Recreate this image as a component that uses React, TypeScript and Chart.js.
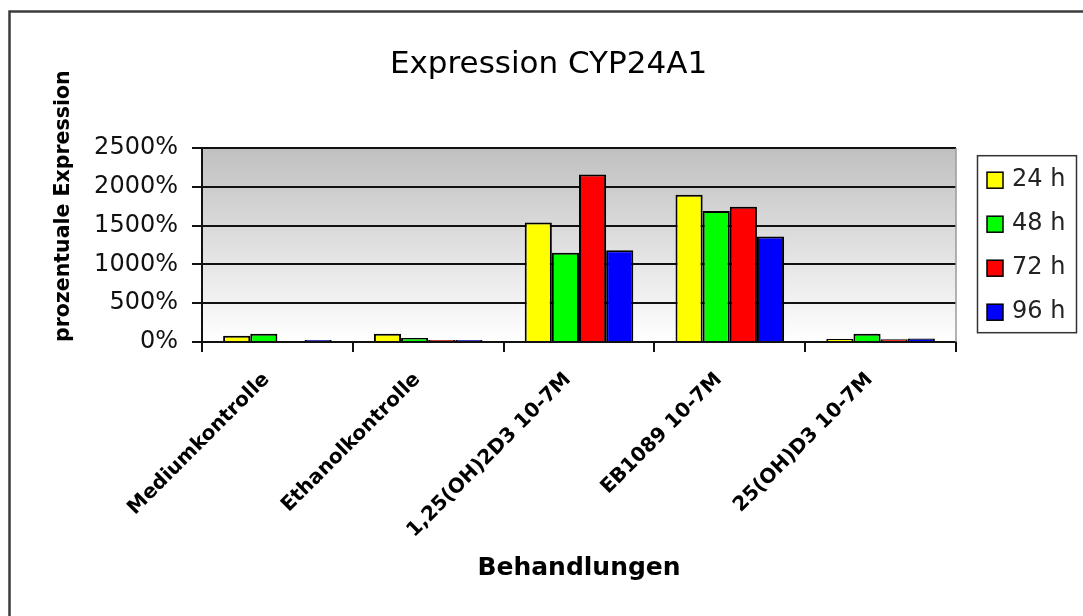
import React, { useEffect, useRef } from "react";
import { Chart, registerables } from "chart.js";

Chart.register(...registerables);

const chartTitle = "Expression CYP24A1";
const xAxisTitle = "Behandlungen";
const yAxisTitle = "prozentuale Expression";

const categories = [
  "Mediumkontrolle",
  "Ethanolkontrolle",
  "1,25(OH)2D3 10-7M",
  "EB1089 10-7M",
  "25(OH)D3 10-7M",
];

const seriesLabels = ["24 h", "48 h", "72 h", "96 h"];
const seriesColors = ["#ffff00", "#00ff00", "#ff0000", "#0000ff"];

const values24h = [80, 105, 1540, 1900, 40];
const values48h = [105, 50, 1150, 1690, 105];
const values72h = [0, 25, 2160, 1745, 35];
const values96h = [25, 25, 1185, 1360, 45];

const yTicks = [0, 500, 1000, 1500, 2000, 2500];

const FONT = "'DejaVu Sans', 'Liberation Sans', sans-serif";

const backgroundPlugin = {
  id: "plotBackground",
  beforeDraw(chart: any) {
    const { ctx, chartArea } = chart;
    const { left, right, top, bottom } = chartArea;
    ctx.save();
    ctx.fillStyle = "#ffffff";
    ctx.fillRect(0, 0, chart.width, chart.height);
    const g = ctx.createLinearGradient(0, top, 0, bottom);
    g.addColorStop(0, "#c0c0c0");
    g.addColorStop(1, "#ffffff");
    ctx.fillStyle = g;
    ctx.fillRect(left, top, right - left, bottom - top);
    // outer frame (only top and left edges are visible in the picture)
    ctx.strokeStyle = "#3c3c3c";
    ctx.lineWidth = 2.5;
    ctx.strokeRect(9.5, 11.5, 3000, 3000);
    ctx.restore();
  },
  afterDatasetsDraw(chart: any) {
    const { ctx, chartArea } = chart;
    ctx.save();
    ctx.strokeStyle = "#9a9a9a";
    ctx.lineWidth = 1.5;
    ctx.beginPath();
    ctx.moveTo(chartArea.right, chartArea.top);
    ctx.lineTo(chartArea.right, chartArea.bottom);
    ctx.stroke();
    ctx.restore();
  },
};

const legendPlugin = {
  id: "boxLegend",
  afterDraw(chart: any) {
    const { ctx, chartArea } = chart;
    const x0 = chartArea.right + 21;
    const y0 = chartArea.top + 7;
    const w = 99;
    const h = 177;
    ctx.save();
    ctx.fillStyle = "#ffffff";
    ctx.fillRect(x0, y0, w, h);
    ctx.strokeStyle = "#333333";
    ctx.lineWidth = 1.5;
    ctx.strokeRect(x0 + 0.5, y0 + 0.5, w, h);
    const datasets = chart.data.datasets;
    ctx.font = `24px ${FONT}`;
    ctx.textBaseline = "middle";
    ctx.textAlign = "left";
    datasets.forEach((ds: any, i: number) => {
      const cy = y0 + 25 + i * 44;
      ctx.fillStyle = ds.backgroundColor;
      ctx.fillRect(x0 + 10, cy - 8, 16, 16);
      ctx.strokeStyle = "#000";
      ctx.lineWidth = 1.5;
      ctx.strokeRect(x0 + 10, cy - 8, 16, 16);
      ctx.fillStyle = "#222";
      ctx.fillText(ds.label, x0 + 35, cy);
    });
    ctx.restore();
  },
};

export default function App() {
  const ref = useRef<HTMLCanvasElement | null>(null);

  useEffect(() => {
    if (!ref.current) return;
    const seriesValues = [values24h, values48h, values72h, values96h];
    const chart = new Chart(ref.current, {
      type: "bar",
      data: {
        labels: categories,
        datasets: seriesLabels.map((label, i) => ({
          label,
          data: seriesValues[i],
          backgroundColor: seriesColors[i],
          borderColor: "#000000",
          borderWidth: 2,
          categoryPercentage: 0.72,
          barPercentage: 1.0,
          yAxisID: "y",
        })),
      },
      options: {
        animation: false,
        responsive: false,
        maintainAspectRatio: false,
        layout: { padding: { left: 14, right: 0, top: 0, bottom: 0 } },
        plugins: {
          legend: { display: false },
          tooltip: { enabled: false },
          title: {
            display: true,
            text: chartTitle,
            color: "#000",
            font: { family: FONT, size: 31, weight: "normal" },
            padding: { top: 46, bottom: 65 },
          },
        },
        scales: {
          x: {
            type: "category",
            grid: {
              display: true,
              drawOnChartArea: false,
              drawTicks: true,
              tickLength: 10,
              color: "#111",
              lineWidth: 2,
              offset: true,
            },
            border: { display: true, color: "#111", width: 2 },
            ticks: {
              color: "#000",
              font: { family: FONT, size: 20, weight: "bold" },
              maxRotation: 45,
              minRotation: 45,
              padding: 16,
              labelOffset: -11,
              autoSkip: false,
            },
            title: {
              display: true,
              text: xAxisTitle,
              color: "#000",
              font: { family: FONT, size: 25, weight: "bold" },
              padding: { top: 0, bottom: 33 },
            },
            afterFit(s: any) {
              s.height = 274;
            },
          },
          y: {
            type: "linear",
            position: "left",
            min: yTicks[0],
            max: yTicks[yTicks.length - 1],
            afterBuildTicks(s: any) {
              s.ticks = yTicks.map((v) => ({ value: v }));
            },
            grid: {
              color: "#111",
              lineWidth: 2,
              drawTicks: true,
              tickLength: 10,
            },
            border: { display: true, color: "#111", width: 2 },
            ticks: {
              color: "#111",
              font: { family: FONT, size: 24 },
              padding: 14,
              callback: (v: any) => `${v}%`,
            },
            title: {
              display: true,
              text: yAxisTitle,
              align: "start",
              color: "#000",
              font: { family: FONT, size: 20.5, weight: "bold" },
              padding: { top: 37, bottom: 0 },
            },
            afterFit(s: any) {
              s.width = 188;
            },
          },
          yR: {
            type: "linear",
            position: "right",
            display: true,
            grid: { display: false, drawTicks: false },
            border: { display: false },
            ticks: { display: false },
            afterFit(s: any) {
              s.width = 127;
            },
          },
        },
      },
      plugins: [backgroundPlugin, legendPlugin],
    } as any);
    return () => chart.destroy();
  }, []);

  return (
    <div style={{ position: "absolute", left: 0, top: 0, width: 1083, height: 616, background: "#fff" }}>
      <canvas ref={ref} width={1083} height={616} style={{ width: 1083, height: 616 }} />
    </div>
  );
}
